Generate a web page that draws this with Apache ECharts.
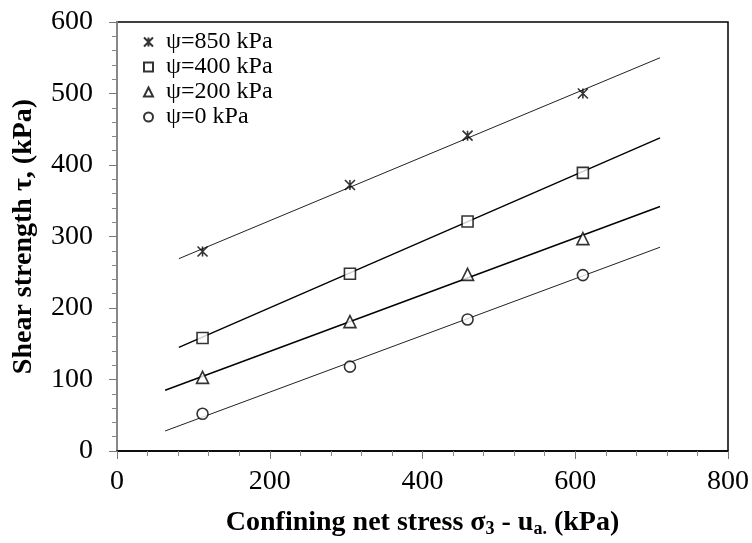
<!DOCTYPE html>
<html>
<head>
<meta charset="utf-8">
<script src="https://cdn.jsdelivr.net/npm/echarts@6/dist/echarts.min.js"></script>
<style>
  html, body { margin: 0; padding: 0; background: #fff; }
  #chart { width: 752px; height: 543px; }
</style>
</head>
<body>
<div id="chart"></div>
<script>
// Confining net stress (kPa) at which each test was run
const netStress = [112, 305, 459, 610];

// Measured shear strength (kPa) for each matric suction level
const tau850 = [279, 372, 441, 500];
const tau400 = [158, 248, 321, 389];
const tau200 = [103, 181, 247, 297];
const tau0 = [52, 118, 184, 246];

// Fitted failure envelopes: [start, end] points in (kPa, kPa)
const fit850 = [[81, 269], [711, 550]];
const fit400 = [[81, 145], [711, 438]];
const fit200 = [[63, 85], [711, 342]];
const fit0 = [[63, 28], [711, 285]];

const seriesNames = ['ψ=850 kPa', 'ψ=400 kPa', 'ψ=200 kPa', 'ψ=0 kPa'];

// Axis ranges
const xMin = 0, xMax = 800, xStep = 200;
const yMin = 0, yMax = 600, yStep = 100;

const asterisk = 'path://M0,0L10,10M10,0L0,10M5,0L5,10';
const serif = '"Liberation Serif", "Times New Roman", serif';

function pairs(xs, ys) { return xs.map((x, i) => [x, ys[i]]); }

function pointSeries(name, ys, symbol, size) {
  return {
    name: name,
    type: 'scatter',
    data: pairs(netStress, ys),
    symbol: symbol,
    symbolSize: size,
    z: 5,
    itemStyle: { color: '#fff', borderColor: '#000', borderWidth: 1.6 }
  };
}

function fitSeries(pts, width, color) {
  return {
    type: 'line',
    data: pts,
    symbol: 'none',
    silent: true,
    z: 2,
    lineStyle: { color: color, width: width }
  };
}

const chart = echarts.init(document.getElementById('chart'), null, { renderer: 'canvas' });

chart.setOption({
  animation: false,
  backgroundColor: '#fff',
  textStyle: { fontFamily: serif },
  grid: {
    left: 117, top: 22, right: 24, bottom: 91,
    show: true, borderColor: '#000', borderWidth: 1.5, backgroundColor: 'transparent'
  },
  legend: {
    data: seriesNames.map(n => ({ name: n })),
    orient: 'vertical',
    left: 138, top: 25,
    itemWidth: 9, itemHeight: 9,
    itemGap: 1,
    textStyle: { fontFamily: serif, fontSize: 24, lineHeight: 24, color: '#000', padding: [0, 0, 0, 8] }
  },
  xAxis: {
    type: 'value',
    min: xMin, max: xMax, interval: xStep,
    name: '{b|Confining net stress σ}{s|3}{b| - u}{s|a.}{b| (kPa)}',
    nameLocation: 'middle',
    nameGap: 57,
    nameTextStyle: {
      rich: {
        b: { fontFamily: serif, fontWeight: 'bold', fontSize: 28, color: '#000' },
        s: { fontFamily: serif, fontWeight: 'bold', fontSize: 18, color: '#000', verticalAlign: 'bottom', padding: [12, 0, 0, 0] }
      }
    },
    axisLine: { show: true, lineStyle: { color: '#000', width: 1.5 } },
    axisTick: { show: true, inside: false, length: 8, lineStyle: { color: '#777', width: 1 } },
    minorTick: { show: true, splitNumber: 5, length: 5, lineStyle: { color: '#888', width: 1 } },
    splitLine: { show: false },
    axisLabel: { fontFamily: serif, fontSize: 28, color: '#000', margin: 17 }
  },
  yAxis: {
    type: 'value',
    min: yMin, max: yMax, interval: yStep,
    name: 'Shear strength τ, (kPa)',
    nameLocation: 'middle',
    nameGap: 79,
    nameRotate: 90,
    nameTextStyle: { fontFamily: serif, fontWeight: 'bold', fontSize: 28, color: '#000' },
    axisLine: { show: true, lineStyle: { color: '#888', width: 2 } },
    axisTick: { show: true, inside: false, length: 8, lineStyle: { color: '#777', width: 1 } },
    minorTick: { show: true, splitNumber: 5, length: 5, lineStyle: { color: '#888', width: 1 } },
    splitLine: { show: false },
    axisLabel: { fontFamily: serif, fontSize: 28, color: '#000', margin: 24 }
  },
  series: [
    fitSeries(fit850, 1, '#222'),
    fitSeries(fit400, 1.4, '#000'),
    fitSeries(fit200, 1.4, '#000'),
    fitSeries(fit0, 1, '#222'),
    pointSeries(seriesNames[0], tau850, asterisk, 10),
    pointSeries(seriesNames[1], tau400, 'rect', 11),
    pointSeries(seriesNames[2], tau200, 'triangle', 12),
    pointSeries(seriesNames[3], tau0, 'circle', 11)
  ]
});
</script>
</body>
</html>
